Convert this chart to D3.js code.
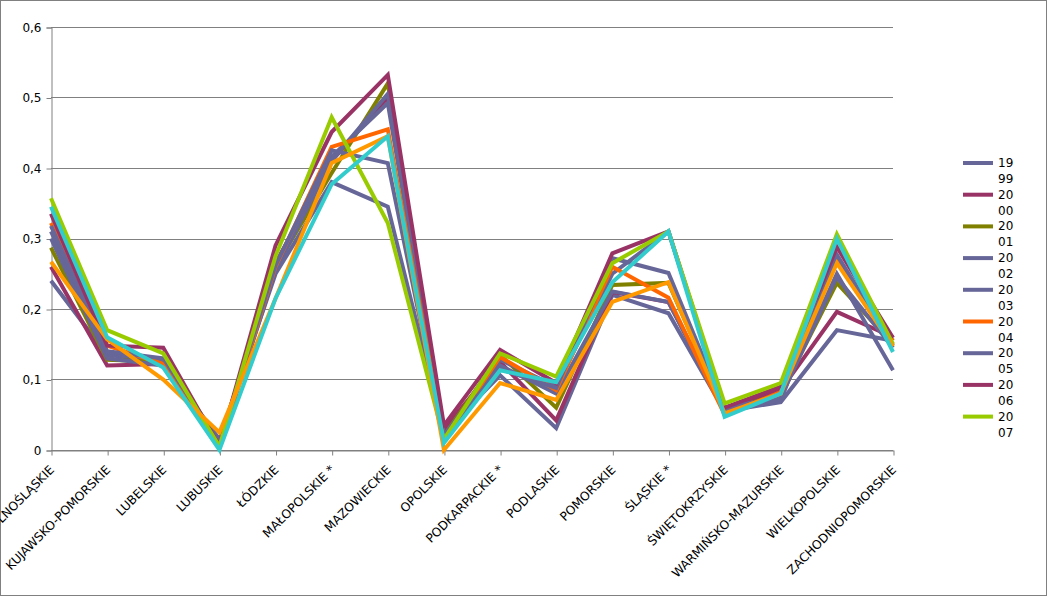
<!DOCTYPE html>
<html><head><meta charset="utf-8">
<script src="https://cdn.jsdelivr.net/npm/d3@7"></script>
<style>body{margin:0;background:#fff}svg{display:block;font-family:"DejaVu Sans",sans-serif}</style>
</head><body><svg id="c" width="1048" height="597"></svg>
<script>
const categories = ["DOLNOŚLĄSKIE","KUJAWSKO-POMORSKIE","LUBELSKIE","LUBUSKIE","ŁÓDZKIE","MAŁOPOLSKIE *","MAZOWIECKIE","OPOLSKIE","PODKARPACKIE *","PODLASKIE","POMORSKIE","ŚLĄSKIE *","ŚWIĘTOKRZYSKIE","WARMIŃSKO-MAZURSKIE","WIELKOPOLSKIE","ZACHODNIOPOMORSKIE"];
const seriesNames = ["1999","2000","2001","2002","2003","2004","2005","2006","2007","2008","2009"];
const legendNames = ["1999","2000","2001","2002","2003","2004","2005","2006","2007"];
const seriesColors = ["#666699","#993366","#808000","#666699","#666699","#ff6600","#666699","#993366","#99cc00","#ff9900","#33cccc"];
const v1999 = [0.240,0.135,0.125,0.015,0.250,0.380,0.345,0.025,0.106,0.031,0.220,0.194,0.055,0.068,0.170,0.155];
const v2000 = [0.260,0.120,0.122,0.010,0.265,0.410,0.500,0.030,0.125,0.042,0.224,0.210,0.058,0.085,0.196,0.160];
const v2001 = [0.287,0.128,0.125,0.005,0.260,0.393,0.520,0.020,0.135,0.060,0.234,0.237,0.055,0.080,0.237,0.150];
const v2002 = [0.300,0.130,0.120,0.005,0.255,0.410,0.505,0.020,0.120,0.080,0.225,0.210,0.055,0.075,0.245,0.145];
const v2003 = [0.310,0.138,0.128,0.008,0.260,0.416,0.492,0.020,0.128,0.090,0.250,0.310,0.060,0.075,0.250,0.113];
const v2004 = [0.322,0.148,0.122,0.005,0.260,0.430,0.455,0.015,0.132,0.085,0.260,0.216,0.050,0.082,0.270,0.155];
const v2005 = [0.318,0.140,0.130,0.010,0.262,0.425,0.407,0.020,0.115,0.088,0.272,0.251,0.058,0.070,0.277,0.148];
const v2006 = [0.335,0.148,0.145,0.005,0.290,0.451,0.532,0.035,0.142,0.095,0.279,0.310,0.060,0.090,0.288,0.159];
const v2007 = [0.357,0.170,0.137,0.005,0.275,0.472,0.322,0.015,0.137,0.104,0.265,0.310,0.066,0.095,0.306,0.150];
const v2008 = [0.267,0.157,0.100,0.025,0.215,0.407,0.445,0.000,0.095,0.071,0.210,0.238,0.052,0.080,0.265,0.147];
const v2009 = [0.345,0.160,0.117,0.000,0.215,0.377,0.445,0.010,0.113,0.096,0.238,0.310,0.047,0.080,0.300,0.139];
const seriesValues = [v1999,v2000,v2001,v2002,v2003,v2004,v2005,v2006,v2007,v2008,v2009];
const yTicks = [0,0.1,0.2,0.3,0.4,0.5,0.6];

const svg = d3.select("#c");
svg.append("rect").attr("x",0.5).attr("y",0.5).attr("width",1046).attr("height",595)
  .attr("fill","#fff").attr("stroke","#808080");

const x = d3.scalePoint().domain(categories).range([51,893]).padding(0);
const y = d3.scaleLinear().domain([0,0.6]).range([450,27]);
const fmt = d => String(+d.toFixed(1)).replace(".",",");

// gridlines
svg.append("g").selectAll("line").data(yTicks).join("line")
  .attr("x1",51).attr("x2",893).attr("y1",d=>Math.round(y(d))+0.5).attr("y2",d=>Math.round(y(d))+0.5)
  .attr("stroke","#808080").attr("stroke-width",1);

// y axis
const ya = svg.append("g").attr("transform","translate(51.5,0.5)")
  .call(d3.axisLeft(y).tickValues(yTicks).tickFormat(fmt).tickSize(5).tickPadding(5));
ya.select(".domain").attr("stroke","#808080");
ya.selectAll(".tick line").attr("stroke","#808080");
ya.selectAll("text").attr("font-size",12).attr("fill","#000").attr("font-family","DejaVu Sans");

// x axis
const xa = svg.append("g").attr("transform","translate(0.5,450.5)")
  .call(d3.axisBottom(x).tickSize(5).tickSizeOuter(0));
xa.select(".domain").attr("stroke","#808080");
xa.selectAll(".tick line").attr("stroke","#808080");
xa.selectAll("text").attr("font-size",12.2).attr("fill","#000").attr("font-family","DejaVu Sans")
  .attr("text-anchor","end").attr("y",0).attr("dy",0)
  .attr("transform","translate(3,20) rotate(-45)");

// lines
const line = d3.line().x((d,i)=>x(categories[i])).y(d=>y(d));
svg.append("g").selectAll("path").data(seriesValues).join("path")
  .attr("d",line).attr("fill","none")
  .attr("stroke",(d,i)=>seriesColors[i]).attr("stroke-width",4)
  .attr("stroke-linejoin","miter");

// legend
const lg = svg.append("g");
legendNames.forEach((n,i)=>{
  const yy = 163 + i*31.7;
  lg.append("line").attr("x1",963).attr("x2",993).attr("y1",yy).attr("y2",yy)
    .attr("stroke",seriesColors[i]).attr("stroke-width",4);
  const t = lg.append("text").attr("x",998).attr("y",yy+4).attr("font-size",12).attr("fill","#000");
  t.append("tspan").attr("x",998).text(n.slice(0,2));
  t.append("tspan").attr("x",998).attr("dy",16).text(n.slice(2));
});
</script></body></html>
